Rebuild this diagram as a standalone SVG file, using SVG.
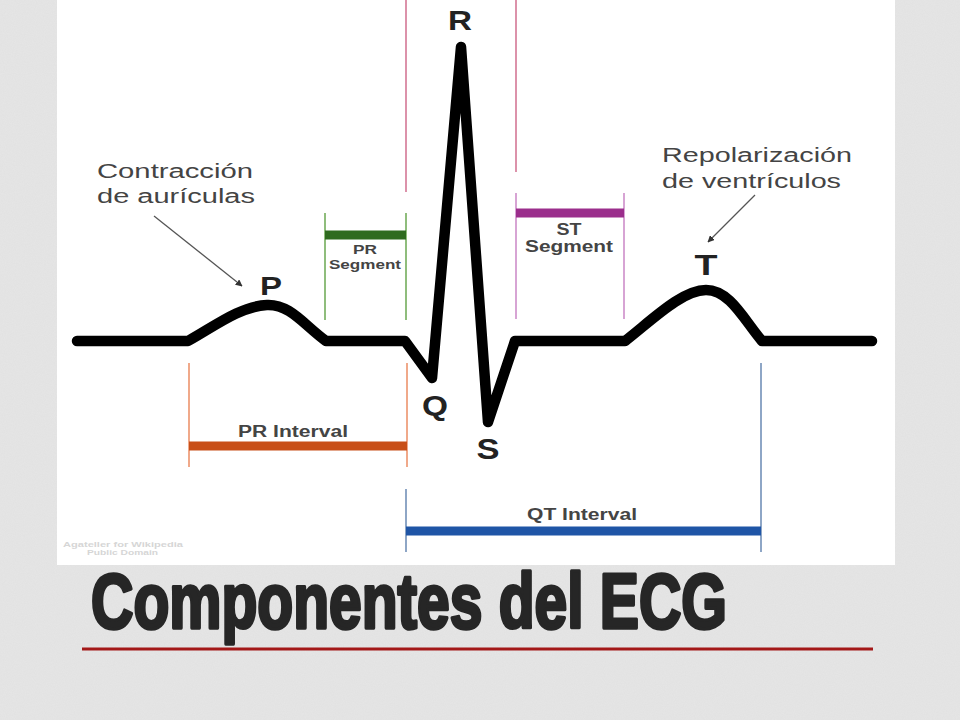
<svg xmlns="http://www.w3.org/2000/svg" width="960" height="720" viewBox="0 0 960 720">
<defs>
<style>
.lbl{font-family:"Liberation Sans",Arial,sans-serif;font-weight:bold;fill:#222;text-anchor:middle}
.sm{font-family:"Liberation Sans",Arial,sans-serif;font-weight:bold;fill:#444;text-anchor:middle}
.ann{font-family:"Liberation Sans",Arial,sans-serif;fill:#444;font-size:20px}
.trace{fill:none;stroke:#000;stroke-width:10.5;stroke-linecap:round;stroke-linejoin:round}
.guide{stroke-width:2;fill:none}
.bar{stroke-width:9;fill:none}
.arrow{stroke:#555;stroke-width:1.3;fill:none;marker-end:url(#ah)}
</style>
<marker id="ah" viewBox="0 0 10 10" refX="9" refY="5" markerWidth="7" markerHeight="7" orient="auto" markerUnits="userSpaceOnUse">
<path d="M0,0 L10,5 L0,10 z" fill="#333"/>
</marker>
<filter id="noise" x="0" y="0" width="100%" height="100%">
<feTurbulence type="fractalNoise" baseFrequency="0.9" numOctaves="2" seed="3"/>
<feColorMatrix type="matrix" values="0 0 0 0 0.5  0 0 0 0 0.5  0 0 0 0 0.5  0 0 0 0.12 0"/>
</filter>
</defs>
<rect width="960" height="720" fill="#e6e6e6"/>
<rect width="960" height="720" filter="url(#noise)"/>
<rect x="57" y="0" width="838" height="565" fill="#ffffff"/>

<g id="credit" font-family="Liberation Sans, Arial, sans-serif" font-size="6.5" font-weight="bold" fill="#d6d6d6">
<text x="63" y="547" textLength="120" lengthAdjust="spacingAndGlyphs">Agateller for Wikipedia</text>
<text x="87" y="555" textLength="71" lengthAdjust="spacingAndGlyphs">Public Domain</text>
</g>

<g id="connectors">
<line class="guide" x1="406" y1="0" x2="406" y2="192" stroke="#dc92aa"/>
<line class="guide" x1="516" y1="0" x2="516" y2="172" stroke="#dc92aa"/>
<line class="guide" x1="325" y1="213" x2="325" y2="320" stroke="#8fbd7c"/>
<line class="guide" x1="406" y1="213" x2="406" y2="320" stroke="#8fbd7c"/>
<line class="bar" x1="325" y1="235" x2="406" y2="235" stroke="#2f6b1f"/>
<line class="guide" x1="516" y1="193" x2="516" y2="319" stroke="#d7a4d4"/>
<line class="guide" x1="624" y1="193" x2="624" y2="319" stroke="#d7a4d4"/>
<line class="bar" x1="516" y1="213" x2="624" y2="213" stroke="#9b2e8c"/>
<line class="guide" x1="189" y1="363" x2="189" y2="467" stroke="#f0a98a"/>
<line class="guide" x1="407" y1="363" x2="407" y2="467" stroke="#f0a98a"/>
<line class="bar" x1="189" y1="446" x2="407" y2="446" stroke="#c84f18"/>
<line class="guide" x1="406" y1="489" x2="406" y2="552" stroke="#8ea6c6"/>
<line class="guide" x1="761" y1="363" x2="761" y2="552" stroke="#8ea6c6"/>
<line class="bar" x1="406" y1="531" x2="761" y2="531" stroke="#1f55a6"/>
<line class="arrow" x1="154" y1="216" x2="242" y2="286"/>
<line class="arrow" x1="755" y1="195" x2="708" y2="242"/>
</g>

<g id="ecg-trace">
<path class="trace" d="M77,341 L188,341 C212,328 240,306 267,305 C290,304 304,325 326,341 L405,341 L432,378 L461,47 L488,422 L515,341 L625,341 C652,320 682,290 706,290 C730,290 744,320 762,341 L872,341"/>
</g>

<g id="wave-labels">
<text class="lbl" x="460" y="30" font-size="28" textLength="24" lengthAdjust="spacingAndGlyphs">R</text>
<text class="lbl" x="271" y="295" font-size="25" textLength="22" lengthAdjust="spacingAndGlyphs">P</text>
<text class="lbl" x="435" y="415" font-size="28" textLength="26" lengthAdjust="spacingAndGlyphs">Q</text>
<text class="lbl" x="488" y="459" font-size="29" textLength="23" lengthAdjust="spacingAndGlyphs">S</text>
<text class="lbl" x="706" y="275" font-size="30" textLength="23" lengthAdjust="spacingAndGlyphs">T</text>
</g>

<g id="pr-segment-label">
<text class="sm" x="365" y="254" font-size="12" textLength="24" lengthAdjust="spacingAndGlyphs">PR</text>
<text class="sm" x="365" y="269" font-size="12" textLength="72" lengthAdjust="spacingAndGlyphs">Segment</text>
</g>
<g id="st-segment-label">
<text class="sm" x="569" y="235" font-size="16" textLength="25" lengthAdjust="spacingAndGlyphs">ST</text>
<text class="sm" x="569" y="252" font-size="16" textLength="88" lengthAdjust="spacingAndGlyphs">Segment</text>
</g>
<g id="pr-interval-label">
<text class="sm" x="293" y="437" font-size="16" textLength="110" lengthAdjust="spacingAndGlyphs">PR Interval</text>
</g>
<g id="qt-interval-label">
<text class="sm" x="582" y="520" font-size="16" textLength="110" lengthAdjust="spacingAndGlyphs">QT Interval</text>
</g>

<g id="annotation-p">
<text class="ann" x="97" y="178" textLength="156" lengthAdjust="spacingAndGlyphs">Contracción</text>
<text class="ann" x="97" y="203" textLength="158" lengthAdjust="spacingAndGlyphs">de aurículas</text>
</g>
<g id="annotation-t">
<text class="ann" x="662" y="162" textLength="190" lengthAdjust="spacingAndGlyphs">Repolarización</text>
<text class="ann" x="662" y="188" textLength="179" lengthAdjust="spacingAndGlyphs">de ventrículos</text>
</g>

<g id="title">
<text x="91" y="628" font-family="Liberation Sans, Arial, sans-serif" font-weight="bold" font-size="78" fill="#262626" stroke="#262626" stroke-width="3.5" stroke-linejoin="round" textLength="636" lengthAdjust="spacingAndGlyphs">Componentes del ECG</text>
<line x1="82" y1="649" x2="873" y2="649" stroke="#a31818" stroke-width="3"/>
</g>
</svg>
